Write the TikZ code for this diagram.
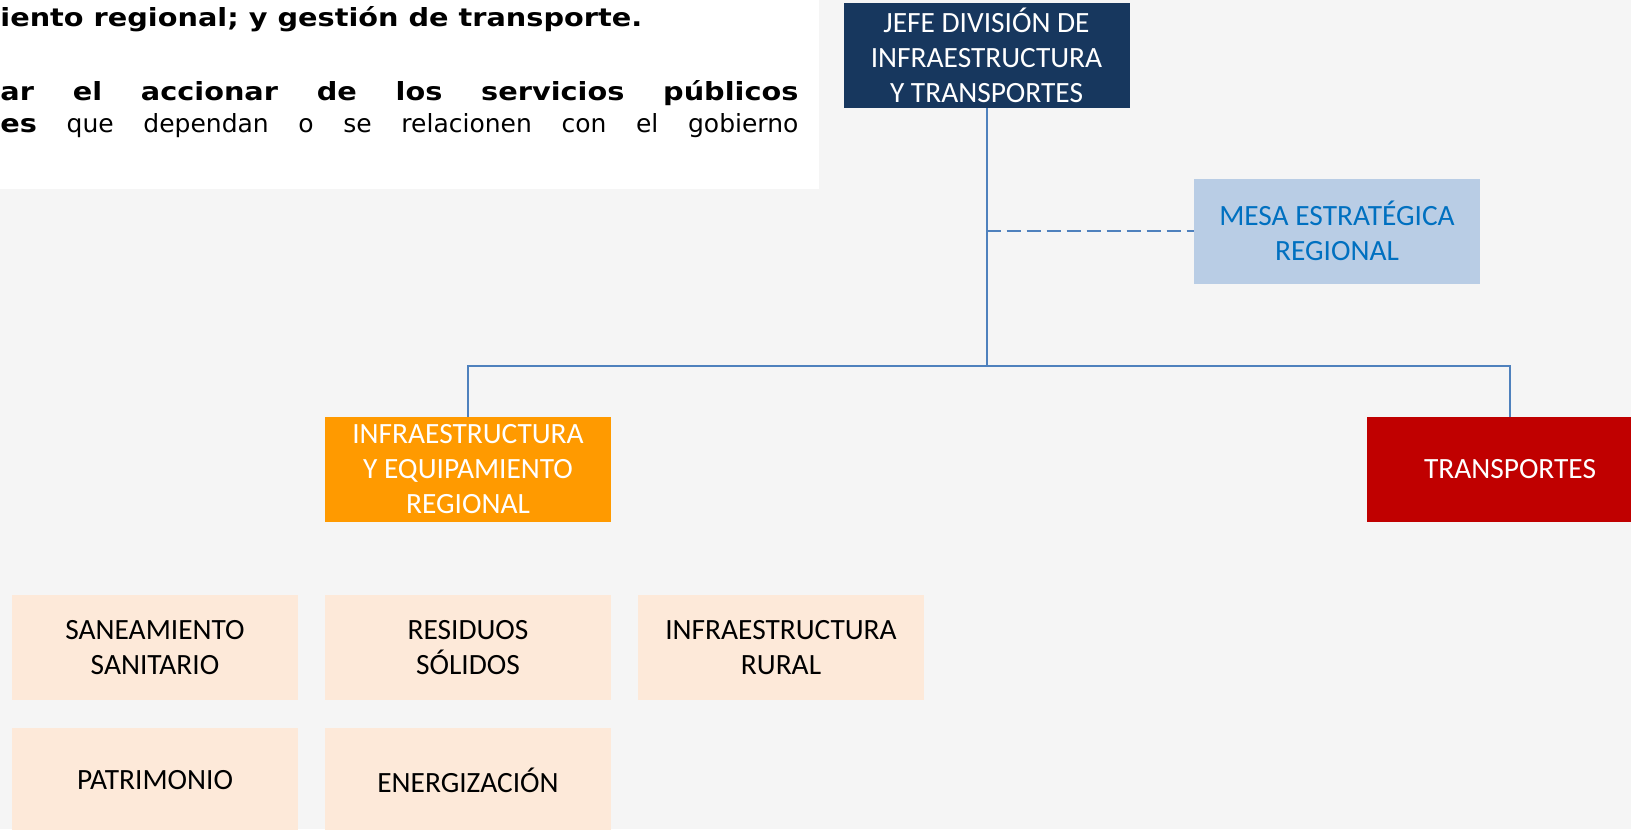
\documentclass[tikz,border=0pt]{standalone}
\usepackage{fontspec}
\newfontfamily\boxfont{Carlito}
\newfontfamily\parfont[BoldFeatures={FakeStretch=1.15}]{DejaVu Sans}
\definecolor{pagegray}{HTML}{F5F5F5}
\definecolor{jefeblue}{HTML}{17375E}
\definecolor{mesablue}{HTML}{B9CDE5}
\definecolor{mesatext}{HTML}{0070C0}
\definecolor{areaorange}{HTML}{FF9A00}
\definecolor{areared}{HTML}{C00000}
\definecolor{unitpeach}{HTML}{FDE9D9}
\definecolor{linkblue}{HTML}{4F81BD}
\tikzset{
	block/.style    = {rectangle, minimum height=52.5pt, minimum width=143pt, inner sep=0pt, align=center, font={\boxfont\fontsize{14.7}{17.5}\selectfont}, node distance=156.5pt},
	head/.style     = {block, fill=jefeblue, text=white},
	mesa/.style     = {block, fill=mesablue, text=mesatext},
	area/.style     = {block, text=white},
	unit/.style     = {block, fill=unitpeach, text=black},
	hidden/.style   = {coordinate},
	textline/.style = {anchor=base west, inner sep=0pt, font={\parfont\fontsize{12.5}{15}\selectfont}},
	link/.style     = {draw=linkblue, line width=1pt},
}

\begin{document}
\begin{tikzpicture}[x=0.5pt, y=-0.5pt]
	% Draw the page and the text panel
	\fill[pagegray] (0,0) rectangle (1631,829);
	\useasboundingbox (0,0) rectangle (1631,829);
	\fill[white] (0,0) rectangle (819,189);
	
	% Draw the text fragment
	\draw
	node[textline] (textone) at (0,27) {\bfseries iento regional; y gestión de transporte.}
	node[textline] (texttwo) at (0,100) {\makebox[399pt][s]{\bfseries ar el accionar de los servicios públicos}}
	node[textline] (textthree) at (0,133) {\makebox[399pt][s]{\textbf{es} que dependan o se relacionen con el gobierno}};
	
	% Draw the head and the area nodes
	\draw
	node[head] (jefe) at (986.5,55.5) {JEFE DIVISIÓN DE\\INFRAESTRUCTURA\\Y TRANSPORTES}
	node[mesa] (mesa) at (1337,231) {MESA ESTRATÉGICA\\REGIONAL}
	node[area, fill=areaorange] (infra) at (468,469.5) {INFRAESTRUCTURA\\Y EQUIPAMIENTO\\REGIONAL}
	node[area, fill=areared] (transp) at (1510,469.5) {TRANSPORTES}
	node[hidden] (split) at (986.5,366) {}
	node[hidden] (mesafork) at (986.5,231) {};
	
	% Draw the unit nodes
	\draw
	node[unit, below of = infra, node distance = 89pt] (residuos) {RESIDUOS\\SÓLIDOS}
	node[unit, left of  = residuos ] (saneamiento) {SANEAMIENTO\\SANITARIO}
	node[unit, right of = residuos ] (rural) {INFRAESTRUCTURA\\RURAL}
	node[unit, below of = saneamiento, node distance = 66.5pt] (patrimonio) {PATRIMONIO}
	node[unit, below of = residuos   , node distance = 66.5pt] (energia) {ENERGIZACIÓN};
	
	% Connect everything together
	\draw[link] (jefe) -- (split);
	\draw[link] (infra) |- (split) -| (transp);
	\draw[link, dash pattern=on 7pt off 3pt] (mesafork) -- (mesa);
	
\end{tikzpicture}
\end{document}
